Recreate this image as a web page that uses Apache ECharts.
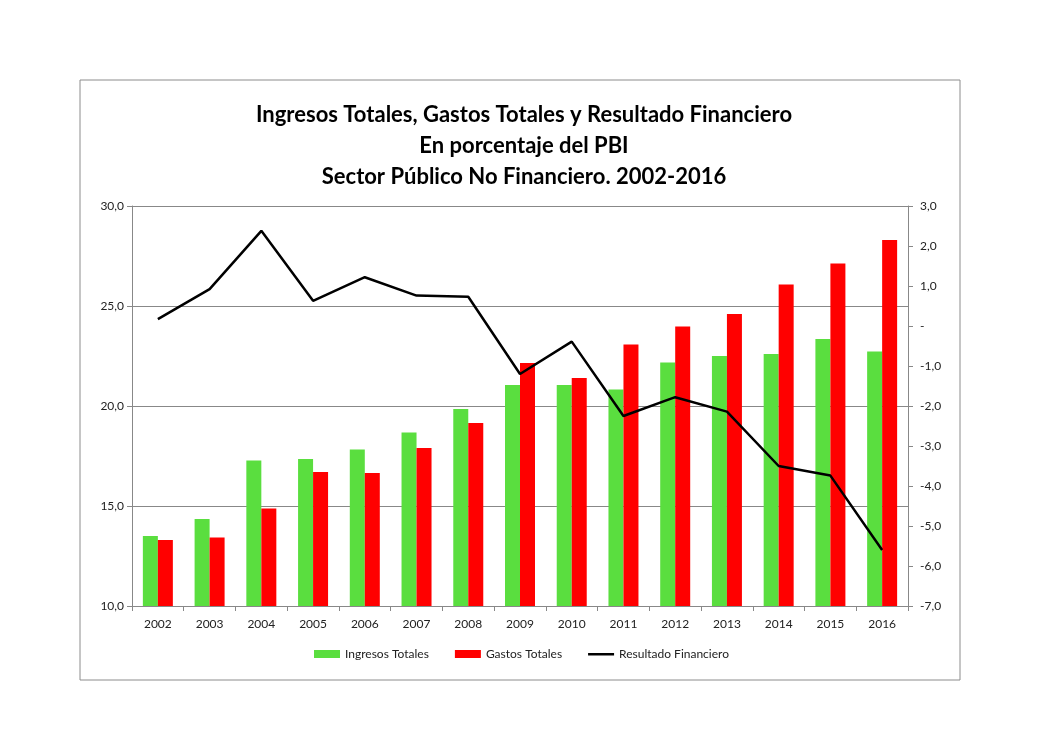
<!DOCTYPE html>
<html>
<head>
<meta charset="utf-8">
<script src="https://cdn.jsdelivr.net/npm/echarts@6/dist/echarts.min.js"></script>
<style>
  html, body { margin: 0; padding: 0; background: #fff; }
  #chart { width: 1043px; height: 745px; }
</style>
</head>
<body>
<div id="chart"></div>
<script>
// datos
const years = ['2002', '2003', '2004', '2005', '2006', '2007', '2008', '2009',
  '2010', '2011', '2012', '2013', '2014', '2015', '2016'];
const ingresos = [13.5, 14.35, 17.27, 17.35, 17.83, 18.67, 19.85, 21.05,
  21.05, 20.83, 22.17, 22.5, 22.6, 23.35, 22.72];
const gastos = [13.3, 13.43, 14.88, 16.7, 16.65, 17.9, 19.15, 22.15,
  21.4, 23.07, 23.98, 24.6, 26.07, 27.12, 28.3];
const resultado = [0.17, 0.92, 2.38, 0.63, 1.22, 0.76, 0.73, -1.2,
  -0.39, -2.25, -1.78, -2.14, -3.5, -3.74, -5.6];

const fontFam = 'Lato, "Open Sans", sans-serif';

function fmtComma(v) {
  return v.toFixed(1).replace('.', ',');
}

const chart = echarts.init(document.getElementById('chart'));

const option = {
  backgroundColor: '#fff',
  animation: false,
  title: {
    text: 'Ingresos Totales, Gastos Totales y Resultado Financiero\nEn porcentaje del PBI\nSector Público No Financiero. 2002-2016',
    left: 519,
    top: 94,
    textAlign: 'center',
    textStyle: {
      fontFamily: fontFam,
      fontSize: 22,
      fontWeight: 'bold',
      color: '#000',
      lineHeight: 31
    }
  },
  graphic: [{
    type: 'rect',
    shape: { x: 80, y: 80, width: 880, height: 600 },
    style: { fill: null, stroke: '#8c8c8c', lineWidth: 1 },
    silent: true
  }],
  legend: {
    bottom: 80,
    left: 'center',
    itemWidth: 26,
    itemHeight: 8,
    itemGap: 26,
    textStyle: { fontFamily: fontFam, fontSize: 12, color: '#222' },
    data: [
      { name: 'Ingresos Totales', icon: 'rect' },
      { name: 'Gastos Totales', icon: 'rect' },
      { name: 'Resultado Financiero', icon: 'path://M0,0M26,8M0,3L26,3L26,5.5L0,5.5Z' }
    ]
  },
  grid: { left: 132, right: 135, top: 206, bottom: 139 },
  xAxis: {
    type: 'category',
    data: years,
    axisLine: { onZero: false, lineStyle: { color: '#888' } },
    axisTick: { show: true, alignWithLabel: false, lineStyle: { color: '#888' }, length: 5 },
    axisLabel: { fontFamily: fontFam, fontSize: 12, color: '#222', margin: 12 }
  },
  yAxis: [{
    type: 'value',
    min: 10,
    max: 30,
    interval: 5,
    axisLine: { show: true, lineStyle: { color: '#888' } },
    axisTick: { show: true, inside: false, length: 5, lineStyle: { color: '#888' } },
    splitLine: { lineStyle: { color: '#888' } },
    axisLabel: { fontFamily: fontFam, fontSize: 12, color: '#222', margin: 8, formatter: fmtComma }
  }, {
    type: 'value',
    min: -7,
    max: 3,
    interval: 1,
    position: 'right',
    axisLine: { show: true, lineStyle: { color: '#888' } },
    axisTick: { show: true, length: 5, lineStyle: { color: '#888' } },
    splitLine: { show: false },
    axisLabel: {
      fontFamily: fontFam, fontSize: 12, color: '#222', margin: 12,
      formatter: function (v) { return v === 0 ? '-' : fmtComma(v); }
    }
  }],
  series: [{
    name: 'Ingresos Totales',
    type: 'bar',
    data: ingresos,
    barWidth: 15,
    barGap: '0%',
    itemStyle: { color: '#5ade3f' }
  }, {
    name: 'Gastos Totales',
    type: 'bar',
    data: gastos,
    barWidth: 15,
    barGap: '0%',
    itemStyle: { color: '#ff0000' }
  }, {
    name: 'Resultado Financiero',
    type: 'line',
    yAxisIndex: 1,
    data: resultado,
    symbol: 'none',
    lineStyle: { color: '#000', width: 2.5 },
    itemStyle: { color: '#000' }
  }]
};

chart.setOption(option);
</script>
</body>
</html>
